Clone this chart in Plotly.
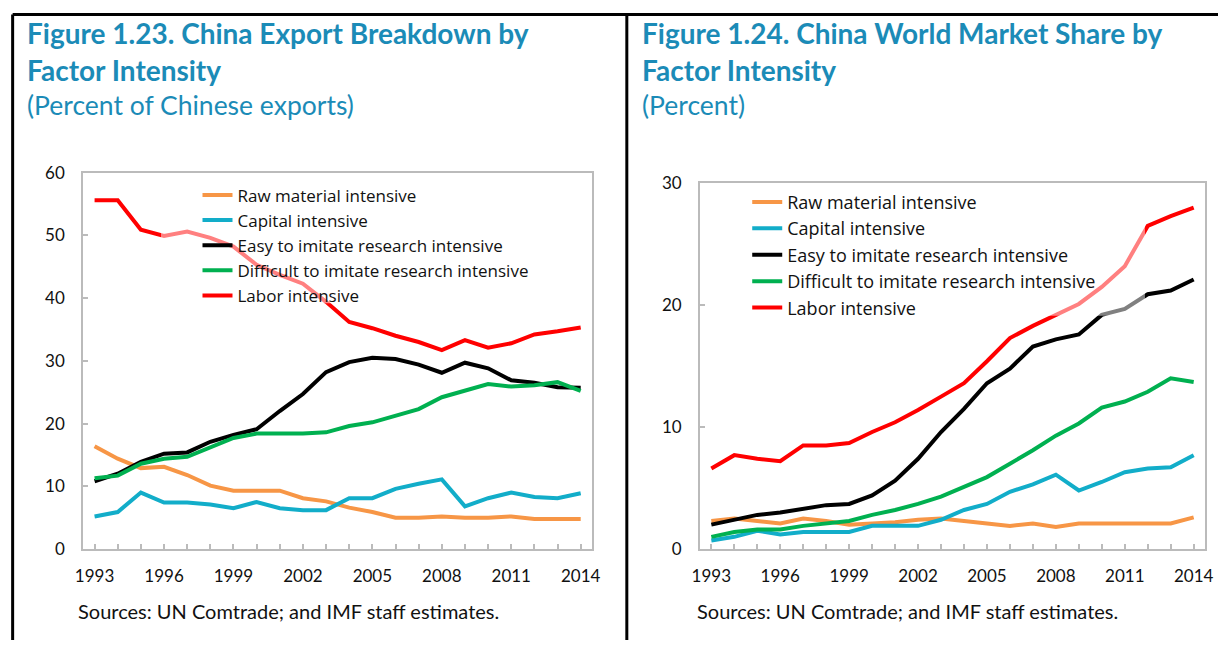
import plotly.graph_objects as go
from plotly.subplots import make_subplots

W, H = 1226, 650

years = list(range(1993, 2015))
series_names = [
    "Raw material intensive",
    "Capital intensive",
    "Easy to imitate research intensive",
    "Difficult to imitate research intensive",
    "Labor intensive",
]
colors = ["#F79646", "#12ADC9", "#000000", "#00B050", "#FF0000"]

# Figure 1.23 – percent of Chinese exports
raw_l = [16.4, 14.4, 12.9, 13.1, 11.8, 10.1, 9.3, 9.3, 9.3, 8.1, 7.6, 6.6, 5.9, 5.0, 5.0, 5.2, 5.0, 5.0, 5.2, 4.8, 4.8, 4.8]
cap_l = [5.2, 5.9, 9.0, 7.4, 7.4, 7.1, 6.5, 7.5, 6.5, 6.2, 6.2, 8.1, 8.1, 9.6, 10.4, 11.1, 6.8, 8.1, 9.0, 8.3, 8.1, 8.9]
easy_l = [10.8, 12.0, 13.9, 15.2, 15.4, 17.1, 18.2, 19.1, 22.0, 24.7, 28.2, 29.8, 30.5, 30.3, 29.4, 28.1, 29.7, 28.8, 26.9, 26.5, 25.8, 25.7]
diff_l = [11.3, 11.7, 13.6, 14.4, 14.7, 16.2, 17.7, 18.4, 18.4, 18.4, 18.6, 19.6, 20.2, 21.2, 22.3, 24.2, 25.3, 26.3, 25.9, 26.1, 26.6, 25.2]
labor_l = [55.6, 55.6, 50.9, 49.9, 50.6, 49.6, 48.2, 45.3, 43.7, 42.3, 39.4, 36.2, 35.2, 34.0, 33.0, 31.7, 33.3, 32.1, 32.8, 34.2, 34.7, 35.3]

# Figure 1.24 – world market share (percent)
raw_r = [2.3, 2.5, 2.3, 2.1, 2.5, 2.3, 2.0, 2.1, 2.2, 2.4, 2.5, 2.3, 2.1, 1.9, 2.1, 1.8, 2.1, 2.1, 2.1, 2.1, 2.1, 2.6]
cap_r = [0.7, 1.0, 1.5, 1.2, 1.4, 1.4, 1.4, 1.9, 1.9, 1.9, 2.4, 3.2, 3.7, 4.7, 5.3, 6.1, 4.8, 5.5, 6.3, 6.6, 6.7, 7.7]
easy_r = [2.0, 2.4, 2.8, 3.0, 3.3, 3.6, 3.7, 4.4, 5.6, 7.4, 9.6, 11.5, 13.6, 14.8, 16.6, 17.2, 17.6, 19.2, 19.7, 20.9, 21.2, 22.1]
diff_r = [1.0, 1.4, 1.6, 1.6, 1.9, 2.1, 2.3, 2.8, 3.2, 3.7, 4.3, 5.1, 5.9, 7.0, 8.1, 9.3, 10.3, 11.6, 12.1, 12.9, 14.0, 13.7]
labor_r = [6.6, 7.7, 7.4, 7.2, 8.5, 8.5, 8.7, 9.6, 10.4, 11.4, 12.5, 13.6, 15.4, 17.3, 18.3, 19.2, 20.1, 21.5, 23.2, 26.5, 27.3, 28.0]

left_series = [raw_l, cap_l, easy_l, diff_l, labor_l]
right_series = [raw_r, cap_r, easy_r, diff_r, labor_r]

FONT = "Lato"
LEG_FONT = "Open Sans"
TEAL = "#1B8BB7"
AXIS = "#BBBBBB"


def px_x(p):
    return p / W


def px_y(p):
    return 1 - p / H


fig = make_subplots(rows=1, cols=2)

for i, (name, vals) in enumerate(zip(series_names, left_series)):
    fig.add_trace(go.Scatter(x=years, y=vals, name=name, mode="lines",
                             line=dict(color=colors[i], width=4),
                             legend="legend", showlegend=True), row=1, col=1)
for i, (name, vals) in enumerate(zip(series_names, right_series)):
    fig.add_trace(go.Scatter(x=years, y=vals, name=name, mode="lines",
                             line=dict(color=colors[i], width=4),
                             legend="legend2", showlegend=True), row=1, col=2)

axis_common = dict(showgrid=False, zeroline=False, showline=True, mirror=True,
                   linecolor=AXIS, linewidth=1.5, ticks="inside", tickcolor=AXIS,
                   ticklen=5, tickwidth=1.5,
                   tickfont=dict(family=FONT, size=17, color="#111111"))

fig.update_xaxes(**axis_common, range=[1992.5, 2014.5], tickmode="linear", tick0=1993, dtick=3,
                 minor=dict(dtick=1, ticks="inside", ticklen=5, tickcolor=AXIS, tickwidth=1.5),
                 ticklabelstandoff=11)
fig.update_yaxes(**axis_common, tickmode="linear", tick0=0, dtick=10, ticklabelstandoff=13)
fig.update_yaxes(range=[0, 60], row=1, col=1)
fig.update_yaxes(range=[0, 30], row=1, col=2)

fig.update_layout(
    xaxis=dict(domain=[px_x(76), px_x(592)]),
    yaxis=dict(domain=[px_y(556), px_y(167)]),
    xaxis2=dict(domain=[px_x(701), px_x(1213)]),
    yaxis2=dict(domain=[px_y(556), px_y(178)]),
)

legend_common = dict(bgcolor="rgba(0,0,0,0)", borderwidth=0,
                     xanchor="left", yanchor="top", traceorder="normal")
fig.update_layout(
    legend=dict(**legend_common, x=px_x(192), y=px_y(172),
                font=dict(family=LEG_FONT, size=17, color="#111111")),
    legend2=dict(**legend_common, x=px_x(749), y=px_y(178.5),
                 font=dict(family=LEG_FONT, size=18, color="#111111")),
)

shapes = []
# translucent legend panels (lighten lines passing behind)
shapes.append(dict(type="rect", xref="paper", yref="paper", layer="above",
                   x0=px_x(155), x1=px_x(567), y0=px_y(302), y1=px_y(177),
                   fillcolor="rgba(255,255,255,0.5)", line=dict(width=0)))
shapes.append(dict(type="rect", xref="paper", yref="paper", layer="above",
                   x0=px_x(709), x1=px_x(1152), y0=px_y(315), y1=px_y(183),
                   fillcolor="rgba(255,255,255,0.5)", line=dict(width=0)))
# page frame lines
frame = dict(type="line", xref="paper", yref="paper", line=dict(color="black", width=3))
shapes.append(dict(frame, x0=px_x(4.7), x1=1, y0=px_y(3.5), y1=px_y(3.5)))
shapes.append(dict(frame, x0=px_x(4.7), x1=px_x(4.7), y0=px_y(3.5), y1=0))
shapes.append(dict(frame, x0=px_x(627), x1=px_x(627), y0=px_y(3.5), y1=0))

annotations = []


def text(x, y, s, size, bold=False, color=TEAL):
    annotations.append(dict(xref="paper", yref="paper", x=px_x(x), y=px_y(y),
                            xanchor="left", yanchor="middle", showarrow=False,
                            text=("<b>%s</b>" % s) if bold else s,
                            font=dict(family=FONT, size=size, color=color)))


text(17, 23, "Figure 1.23. China Export Breakdown by", 28, bold=True)
text(17, 60.5, "Factor Intensity", 28, bold=True)
text(17, 97, "(Percent of Chinese exports)", 26.5)
text(640, 23, "Figure 1.24. China World Market Share by", 28, bold=True)
text(640, 60.5, "Factor Intensity", 28, bold=True)
text(640, 97, "(Percent)", 26.5)
text(69, 620, "Sources: UN Comtrade; and IMF staff estimates.", 20, color="#111111")
text(696, 620, "Sources: UN Comtrade; and IMF staff estimates.", 20, color="#111111")

fig.update_layout(
    width=W, height=H, margin=dict(l=0, r=0, t=0, b=0),
    paper_bgcolor="white", plot_bgcolor="white",
    shapes=shapes, annotations=annotations,
    font=dict(family=FONT),
)

fig.write_html("out.html", config={"displayModeBar": False},
               post_script="document.body.style.margin='0';")
